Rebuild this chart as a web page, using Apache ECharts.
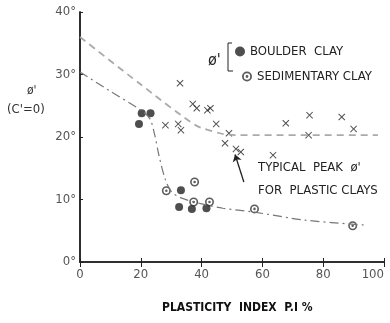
<!DOCTYPE html>
<html>
<head>
<meta charset="utf-8">
<script src="https://cdn.jsdelivr.net/npm/echarts@6/dist/echarts.min.js"></script>
<style>
  html, body { margin: 0; padding: 0; background: #fff; }
  #chart { width: 390px; height: 323px; }
</style>
</head>
<body>
<div id="chart"></div>
<script>
// values (plasticity index %, phi' degrees)
var xTicks = [0, 20, 40, 60, 80, 100];
var yTicks = [0, 10, 20, 30, 40];
var peakCurve = [[0, 36], [20, 28.4], [38, 21.9], [46, 20.6], [51, 20.3], [98, 20.3]];
var residualCurve = [[0, 30.4], [10, 27.3], [20, 24.3], [23, 22.9], [24.5, 20.5], [26, 17], [28, 13.3],
    [30, 11.3], [33, 10.3], [40, 9.3], [47, 8.6], [57, 8.0], [74, 6.7], [94, 5.9]];
var peakPoints = [[32.9, 28.6], [37.1, 25.3], [38.4, 24.6], [41.9, 24.3], [42.9, 24.6], [44.8, 22.1],
    [49, 20.6], [47.7, 19], [51.3, 18.1], [52.9, 17.6], [63.5, 17.1], [67.7, 22.2], [75.5, 23.5],
    [75.2, 20.3], [86.1, 23.2], [90, 21.3], [28.1, 21.9], [32.3, 22.1], [33.2, 21.1]];
var boulderClay = [[20.3, 23.8], [23.2, 23.8], [19.4, 22.1], [33.2, 11.5], [32.6, 8.8], [36.8, 8.5], [41.6, 8.6]];
var sedimentaryClay = [[28.4, 11.4], [37.7, 12.8], [37.4, 9.6], [42.6, 9.6], [57.4, 8.5], [89.7, 5.8]];
var arrowFrom = [53.9, 12.8];
var arrowTo = [51, 17.2];

var F = "'DejaVu Sans Condensed', 'Liberation Sans Narrow', sans-serif";
var INK = '#222';
var crossPath = 'path://M0,1L1,0L5,4L9,0L10,1L6,5L10,9L9,10L5,6L1,10L0,9L4,5Z';
var dotCirclePath = 'path://M5,0A5,5 0 1,1 5,10A5,5 0 1,1 5,0Z M5,1.8A3.2,3.2 0 1,0 5,8.2A3.2,3.2 0 1,0 5,1.8Z M5,3.6A1.4,1.4 0 1,1 5,6.4A1.4,1.4 0 1,1 5,3.6Z';

var chart = echarts.init(document.getElementById('chart'));
var frameLine = { lineStyle: { color: INK, width: 1.5 } };

var option = {
    animation: false,
    backgroundColor: '#fff',
    grid: { left: 80, right: 6, top: 12, bottom: 61 },
    xAxis: [
        {
            type: 'value', min: xTicks[0], max: xTicks[xTicks.length - 1], interval: 20,
            axisLine: frameLine,
            axisTick: { inside: true, length: 4, lineStyle: { color: INK } },
            axisLabel: { margin: 6, color: '#555', fontSize: 13, fontFamily: F, alignMaxLabel: 'right' },
            splitLine: { show: false }
        },
        {
            type: 'value', position: 'top', min: xTicks[0], max: xTicks[xTicks.length - 1], interval: 20,
            axisLine: frameLine,
            axisTick: { inside: true, length: 5, lineStyle: { color: INK } },
            axisLabel: { show: false },
            splitLine: { show: false }
        }
    ],
    yAxis: [
        {
            type: 'value', min: yTicks[0], max: yTicks[yTicks.length - 1], interval: 10,
            axisLine: frameLine,
            axisTick: { inside: true, length: 3, lineStyle: { color: INK } },
            axisLabel: { margin: 4, color: '#555', fontSize: 13, fontFamily: F, formatter: '{value}°' },
            splitLine: { show: false }
        },
        {
            type: 'value', position: 'right', min: yTicks[0], max: yTicks[yTicks.length - 1], interval: 10,
            axisLine: frameLine,
            axisTick: { show: false },
            axisLabel: { show: false },
            splitLine: { show: false }
        }
    ],
    legend: [
        {
            data: ['BOULDER  CLAY'], left: 230, top: 40, itemWidth: 10, itemHeight: 10,
            textStyle: { color: INK, fontSize: 13, fontFamily: F }
        },
        {
            data: ['SEDIMENTARY CLAY'], left: 237, top: 65, itemWidth: 10, itemHeight: 10,
            textStyle: { color: INK, fontSize: 13, fontFamily: F }
        }
    ],
    graphic: [
        { type: 'text', left: 208, top: 53, style: { text: "ø'", font: '16px ' + F, fill: INK } },
        { type: 'polyline', shape: { points: [[232, 43], [228, 43], [228, 71], [233, 71]] },
          style: { stroke: INK, lineWidth: 1, fill: null } },
        { type: 'text', left: 27, top: 85, style: { text: "ø'", font: '12px ' + F, fill: '#333' } },
        { type: 'text', left: 7, top: 103, style: { text: "(C'=0)", font: '13px ' + F, fill: '#333' } },
        { type: 'text', left: 258, top: 161, style: { text: "TYPICAL  PEAK  ø'", font: '13px ' + F, fill: INK } },
        { type: 'text', left: 258, top: 184, style: { text: 'FOR  PLASTIC CLAYS', font: '13px ' + F, fill: INK } },
        { type: 'text', left: 162, top: 302, style: { text: 'PLASTICITY  INDEX  P.I %', font: 'bold 12px ' + F, fill: '#111' } }
    ],
    series: [
        {
            name: 'peak', type: 'line', data: peakCurve, symbol: 'none', smooth: 0.25, silent: true,
            lineStyle: { color: '#aaa', width: 1.8, type: [7, 5] }
        },
        {
            name: 'residual', type: 'line', data: residualCurve, symbol: 'none', smooth: 0.3, silent: true,
            lineStyle: { color: '#777', width: 1.2, type: [9, 4, 2, 4] }
        },
        {
            name: 'typical', type: 'scatter', data: peakPoints, symbol: crossPath, symbolSize: 7,
            itemStyle: { color: INK },
            markLine: {
                silent: true, symbol: ['none', 'arrow'], symbolSize: 7,
                label: { show: false },
                lineStyle: { color: INK, width: 1.3, type: 'solid' },
                data: [[{ coord: arrowFrom }, { coord: arrowTo }]]
            }
        },
        {
            name: 'BOULDER  CLAY', type: 'scatter', data: boulderClay, symbol: 'circle', symbolSize: 8,
            itemStyle: { color: INK }
        },
        {
            name: 'SEDIMENTARY CLAY', type: 'scatter', data: sedimentaryClay, symbol: dotCirclePath, symbolSize: 9,
            itemStyle: { color: '#333' }
        }
    ]
};
chart.setOption(option);
</script>
</body>
</html>
